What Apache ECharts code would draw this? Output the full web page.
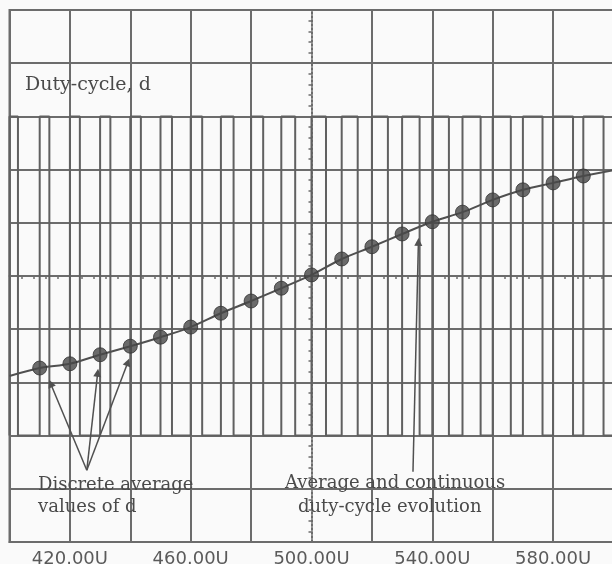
<!DOCTYPE html>
<html>
<head>
<meta charset="utf-8">
<script src="https://cdn.jsdelivr.net/npm/echarts@6/dist/echarts.min.js"></script>
<style>
html,body{margin:0;padding:0;background:#fafafa;}
#chart{width:612px;height:564px;}
</style>
</head>
<body>
<div id="chart"></div>
<script>
// ---- data ----
// time axis in U (microseconds), 20U per grid division
const periodStarts = [400, 410, 420, 430, 440, 450, 460, 470, 480, 490, 500, 510, 520, 530, 540, 550, 560, 570, 580, 590, 600];
const dutyRatios   = [0.28, 0.32, 0.33, 0.34, 0.35, 0.38, 0.38, 0.42, 0.40, 0.46, 0.48, 0.53, 0.53, 0.58, 0.55, 0.60, 0.60, 0.65, 0.66, 0.67, 0.68];
// square-wave levels in screen divisions (0 = bottom, 10 = top)
const waveLevels = [2, 8];
// discrete average values of d (in divisions)
const dotTimes  = [410, 420, 430, 440, 450, 460, 470, 480, 490, 500, 510, 520, 530, 540, 550, 560, 570, 580, 590];
const dotValues = [3.27, 3.35, 3.52, 3.68, 3.85, 4.04, 4.30, 4.53, 4.77, 5.02, 5.32, 5.55, 5.79, 6.02, 6.20, 6.43, 6.62, 6.75, 6.88];
// continuous average curve end values
const curveStart = [400, 3.12];
const curveEnd   = [600, 6.99];
// tick labels
const labelValues = [420, 460, 500, 540, 580];
const labelTexts  = ['420.00U', '460.00U', '500.00U', '540.00U', '580.00U'];

// ---- build series data ----
const wave = [];
for (let i = 0; i < periodStarts.length; i++) {
  const t = periodStarts[i];
  const period = i < periodStarts.length - 1 ? periodStarts[i + 1] - t : t - periodStarts[i - 1];
  const tf = t + dutyRatios[i] * period;
  wave.push([t, waveLevels[0]], [t, waveLevels[1]], [tf, waveLevels[1]], [tf, waveLevels[0]]);
}
const dots = dotTimes.map((t, i) => [t, dotValues[i]]);
const curve = [curveStart].concat(dots, [curveEnd]);

const gridColor = '#6c6c6c';
const splitColors = [];
for (let v = 400; v <= 600; v += 20) splitColors.push(v === 500 ? 'rgba(0,0,0,0)' : gridColor);

const chart = echarts.init(document.getElementById('chart'), null, {renderer: 'canvas'});
const gridBox = {left: 9.5, right: -1.5, top: 10, bottom: 22, containLabel: false, outerBoundsMode: 'none'};
const textColor = '#4a4a4a';

chart.setOption({
  animation: false,
  backgroundColor: '#fafafa',
  grid: [
    Object.assign({show: true, borderColor: gridColor, borderWidth: 2, backgroundColor: 'transparent'}, gridBox),
    Object.assign({show: false}, gridBox)
  ],
  xAxis: [
    {
      type: 'value', gridIndex: 0, min: 400, max: 600, interval: 20,
      axisLine: {show: true, lineStyle: {color: gridColor, width: 2}},
      axisTick: {show: false},
      splitLine: {show: true, lineStyle: {color: splitColors, width: 2}},
      axisLabel: {
        show: true, margin: 8, color: '#5a5a5a', fontFamily: 'DejaVu Sans', fontSize: 18,
        showMinLabel: false, showMaxLabel: false,
        formatter: function (v) { const k = labelValues.indexOf(v); return k >= 0 ? labelTexts[k] : ''; }
      }
    },
    {
      type: 'value', gridIndex: 1, min: -100, max: 100, interval: 20,
      axisLine: {show: true, onZero: true, lineStyle: {color: gridColor, width: 2}},
      axisTick: {show: true, length: 4, lineStyle: {color: gridColor, width: 2}},
      minorTick: {show: true, splitNumber: 5, length: 3, lineStyle: {color: gridColor, width: 1.5}},
      splitLine: {show: false}, axisLabel: {show: false}
    }
  ],
  yAxis: [
    {
      type: 'value', gridIndex: 0, min: 0, max: 10, interval: 1,
      axisLine: {show: true, lineStyle: {color: gridColor, width: 2}},
      axisTick: {show: false}, axisLabel: {show: false},
      splitLine: {show: true, lineStyle: {color: gridColor, width: 2}}
    },
    {
      type: 'value', gridIndex: 1, min: -5, max: 5, interval: 1,
      axisLine: {show: true, onZero: true, lineStyle: {color: gridColor, width: 2, type: 'dotted'}},
      axisTick: {show: true, length: 4, lineStyle: {color: gridColor, width: 2}},
      minorTick: {show: true, splitNumber: 5, length: 3, lineStyle: {color: gridColor, width: 1.5}},
      splitLine: {show: false}, axisLabel: {show: false}
    }
  ],
  series: [
    {
      type: 'line', xAxisIndex: 0, yAxisIndex: 0, data: wave, showSymbol: false, symbol: 'none',
      lineStyle: {color: '#606060', width: 2}, silent: true, z: 3
    },
    {
      type: 'line', xAxisIndex: 0, yAxisIndex: 0, data: curve, smooth: 0.3, showSymbol: false, symbol: 'none',
      lineStyle: {color: '#505050', width: 2}, silent: true, z: 4,
      markLine: {
        silent: true, symbol: ['none', 'triangle'], symbolSize: 8, animation: false,
        label: {show: false},
        lineStyle: {color: '#505050', width: 1.5, type: 'solid'},
        emphasis: {disabled: true},
        data: [
          [{coord: [425.6, 1.35]}, {coord: [413.6, 2.98]}],
          [{coord: [425.6, 1.35]}, {coord: [429.2, 3.18]}],
          [{coord: [425.6, 1.35]}, {coord: [439.2, 3.38]}],
          [{coord: [533.6, 1.32]}, {coord: [535.4, 5.64]}]
        ]
      }
    },
    {
      type: 'scatter', xAxisIndex: 0, yAxisIndex: 0, data: dots, symbol: 'circle', symbolSize: 14,
      itemStyle: {color: '#474747', borderColor: '#333', borderWidth: 1}, silent: true, z: 5
    }
  ],
  graphic: [
    {type: 'text', left: 25, top: 76, z: 10, style: {text: 'Duty-cycle, d', fill: textColor, font: '19px "DejaVu Serif"'}},
    {type: 'text', left: 38, top: 476, z: 10, style: {text: 'Discrete average', fill: textColor, font: '18px "DejaVu Serif"'}},
    {type: 'text', left: 38, top: 498, z: 10, style: {text: 'values of d', fill: textColor, font: '18px "DejaVu Serif"'}},
    {type: 'text', left: 285, top: 474, z: 10, style: {text: 'Average and continuous', fill: textColor, font: '18px "DejaVu Serif"'}},
    {type: 'text', left: 298, top: 498, z: 10, style: {text: 'duty-cycle evolution', fill: textColor, font: '18px "DejaVu Serif"'}}
  ]
});
</script>
</body>
</html>
